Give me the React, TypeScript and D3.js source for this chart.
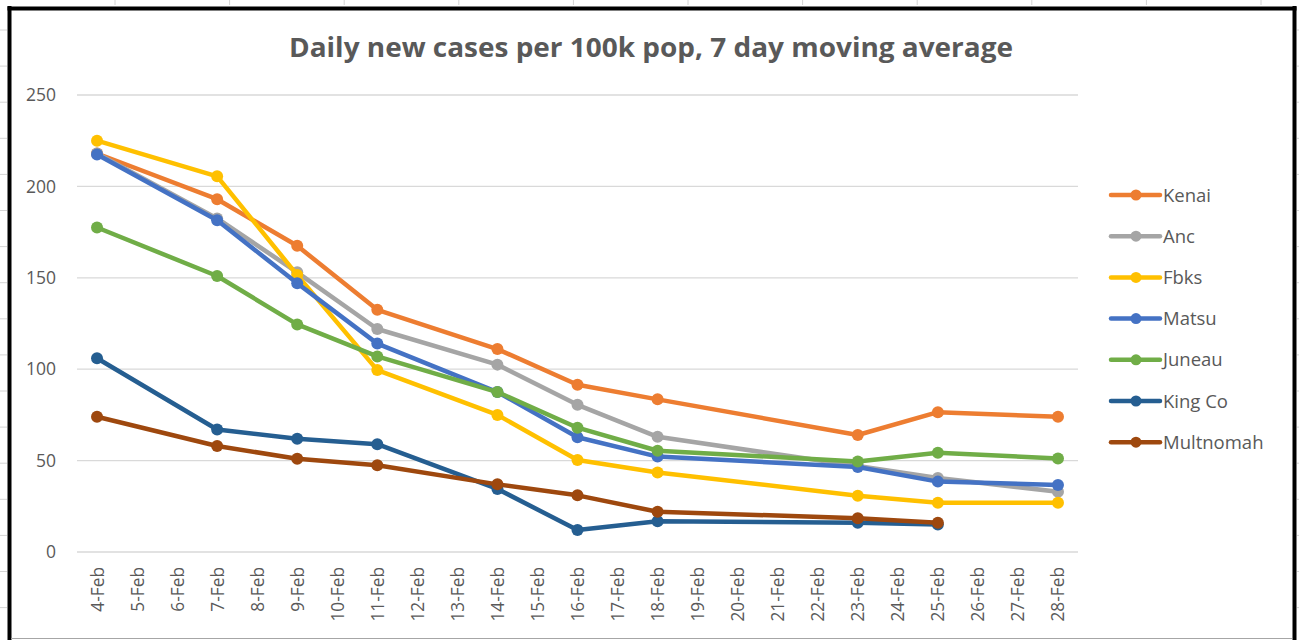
import React from "react";
import * as d3 from "d3";

const days = Array.from({ length: 25 }, (_, i) => i + 4);
const dayLabels = days.map((d) => `${d}-Feb`);
const pointDays = [4, 7, 9, 11, 14, 16, 18, 23, 25, 28];

const kenai = [218, 193, 167.5, 132.5, 111, 91.5, 83.5, 64, 76.5, 74];
const anc = [218, 182.5, 153, 122, 102.5, 80.5, 63, 47, 40.5, 33];
const fbks = [225, 205.5, 151.5, 99.5, 75, 50.3, 43.5, 30.8, 27, 27];
const matsu = [217.5, 181.5, 147, 114, 87.5, 62.8, 52.2, 46.5, 38.5, 36.7];
const juneau = [177.5, 151, 124.5, 107, 87.5, 68, 55.4, 49.5, 54.3, 51.2];
const kingCo = [106, 67, 62, 59, 34.5, 12, 16.8, 16, 15, null];
const multnomah = [74, 58, 51, 47.5, 37, 31, 22, 18.5, 16, null];

const seriesNames = ["Kenai", "Anc", "Fbks", "Matsu", "Juneau", "King Co", "Multnomah"];
const seriesValues = [kenai, anc, fbks, matsu, juneau, kingCo, multnomah];
const seriesColors = ["#ED7D31", "#A5A5A5", "#FFC000", "#4472C4", "#70AD47", "#255E91", "#9E480E"];
const yTicks = [0, 50, 100, 150, 200, 250];

const W = 1299;
const H = 640;
const FONT = "'Open Sans', 'Noto Sans', sans-serif";
const TXT = "#595959";

export default function App() {
  const x = d3.scalePoint<number>().domain(days).range([77, 1078]).padding(0.5);
  const y = d3.scaleLinear().domain([0, 250]).range([552, 95]);
  const line = d3
    .line<[number, number | null]>()
    .defined((d) => d[1] != null)
    .x((d) => x(d[0]) as number)
    .y((d) => y(d[1] as number));

  const colTicks = d3.range(0, 11).map((k) => 115 + k * 114.6);
  const rowTicks = d3.range(0, 18).map((k) => 30 + k * 36.1);

  return (
    <svg
      width={W}
      height={H}
      style={{ position: "fixed", left: 0, top: 0, background: "#fff" }}
    >
      <rect x={0} y={0} width={W} height={H} fill="#fff" />
      {colTicks.map((cx, i) => (
        <line key={"ct" + i} x1={cx} x2={cx} y1={0} y2={5} stroke="#d4d4d4" strokeWidth={1} />
      ))}
      {rowTicks.map((ry, i) => (
        <g key={"rt" + i}>
          <line x1={0} x2={7} y1={ry} y2={ry} stroke="#d4d4d4" strokeWidth={1} />
          <line x1={1297} x2={1299} y1={ry} y2={ry} stroke="#d4d4d4" strokeWidth={1} />
        </g>
      ))}
      {/* chart frame */}
      <line x1={9.5} x2={9.5} y1={6} y2={H} stroke="#000" strokeWidth={4} />
      <line x1={7.5} x2={1296.5} y1={8.5} y2={8.5} stroke="#000" strokeWidth={4} />
      <line x1={1294.5} x2={1294.5} y1={6} y2={H} stroke="#000" strokeWidth={4} />
      <line x1={11} x2={1292} y1={638.5} y2={638.5} stroke="#a6a6a6" strokeWidth={1} />

      <text
        x={651}
        y={57}
        textAnchor="middle"
        fontFamily={FONT}
        fontWeight="bold"
        fontSize={26}
        fill={TXT}
        textLength={724}
        lengthAdjust="spacingAndGlyphs"
      >
        Daily new cases per 100k pop, 7 day moving average
      </text>

      {yTicks.map((t) => (
        <g key={"y" + t}>
          <line x1={77} x2={1078} y1={y(t)} y2={y(t)} stroke="#d9d9d9" strokeWidth={1.3} />
          <text
            x={56}
            y={y(t)}
            dy="0.35em"
            textAnchor="end"
            fontFamily={FONT}
            fontSize={17.5}
            fill={TXT}
          >
            {t}
          </text>
        </g>
      ))}

      {days.map((d, i) => (
        <text
          key={"x" + d}
          transform={`translate(${(x(d) as number) + 6.5},567) rotate(-90)`}
          textAnchor="end"
          fontFamily={FONT}
          fontSize={17.3}
          fill={TXT}
        >
          {dayLabels[i]}
        </text>
      ))}

      {seriesValues.map((vals, si) => {
        const pts: [number, number | null][] = pointDays.map((d, i) => [d, vals[i]]);
        return (
          <g key={"s" + si}>
            <path
              d={line(pts) || ""}
              fill="none"
              stroke={seriesColors[si]}
              strokeWidth={4.5}
              strokeLinejoin="round"
              strokeLinecap="round"
            />
            {pts
              .filter((p) => p[1] != null)
              .map((p, i) => (
                <circle
                  key={i}
                  cx={x(p[0]) as number}
                  cy={y(p[1] as number)}
                  r={6}
                  fill={seriesColors[si]}
                />
              ))}
          </g>
        );
      })}

      {seriesNames.map((n, i) => {
        const ly = 195 + i * 41.2;
        return (
          <g key={"l" + i}>
            <line
              x1={1111}
              x2={1160}
              y1={ly}
              y2={ly}
              stroke={seriesColors[i]}
              strokeWidth={4.5}
              strokeLinecap="round"
            />
            <circle cx={1136} cy={ly} r={5.5} fill={seriesColors[i]} />
            <text
              x={1163}
              y={ly}
              dy="0.36em"
              fontFamily={FONT}
              fontSize={18.5}
              fill={TXT}
            >
              {n}
            </text>
          </g>
        );
      })}
    </svg>
  );
}
